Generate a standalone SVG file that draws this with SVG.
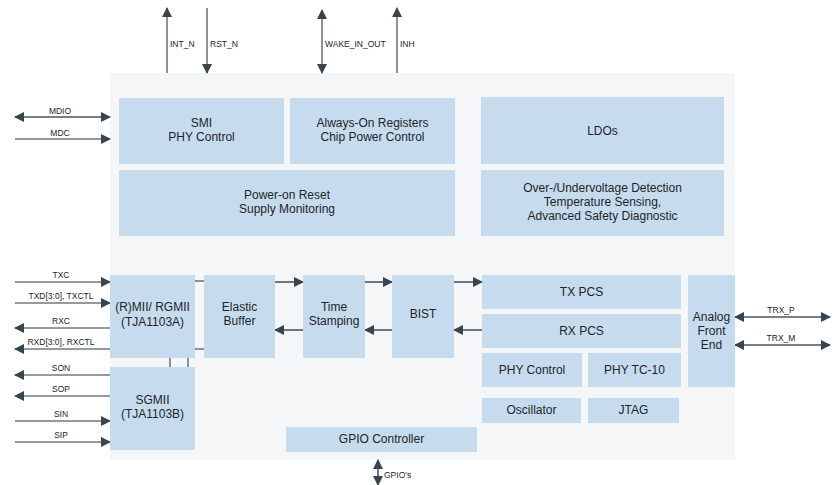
<svg xmlns="http://www.w3.org/2000/svg" width="835" height="485" viewBox="0 0 835 485">
<style>
.box{fill:#c6dcee}
.t{font-family:"Liberation Sans",Arial,sans-serif;font-size:12px;fill:#1e2328;text-anchor:middle}
.s{font-family:"Liberation Sans",Arial,sans-serif;font-size:8.5px;fill:#1e2328}
.sm{text-anchor:middle}
.ln{stroke:#4a5661;stroke-width:1.6;fill:none}
.lg{stroke:#6f7880;stroke-width:1.6;fill:none}
</style>
<defs>
<marker id="ah" viewBox="0 0 10 10" refX="9" refY="5" markerWidth="10" markerHeight="10" markerUnits="userSpaceOnUse" orient="auto-start-reverse">
<path d="M0,0 L10,5 L0,10 z" fill="#37454f"/>
</marker>
</defs>
<rect x="0" y="0" width="835" height="485" fill="#ffffff"/>
<rect id="chip" x="110" y="73" width="625" height="387" fill="#f4f6f8"/>

<g id="connectors">
<!-- top -->
<line class="lg" x1="167" y1="73" x2="167" y2="8" marker-end="url(#ah)"/>
<line class="lg" x1="207" y1="8" x2="207" y2="73" marker-end="url(#ah)"/>
<line class="lg" x1="322" y1="10" x2="322" y2="73" marker-start="url(#ah)" marker-end="url(#ah)"/>
<line class="lg" x1="397" y1="73" x2="397" y2="8" marker-end="url(#ah)"/>
<!-- left top -->
<line class="ln" x1="15" y1="117" x2="110" y2="117" marker-start="url(#ah)" marker-end="url(#ah)"/>
<line class="lg" x1="15" y1="139" x2="110" y2="139" marker-end="url(#ah)"/>
<!-- left bottom -->
<line class="lg" x1="15" y1="282" x2="110" y2="282" marker-end="url(#ah)"/>
<line class="lg" x1="15" y1="303" x2="110" y2="303" marker-end="url(#ah)"/>
<line class="lg" x1="110" y1="328" x2="15" y2="328" marker-end="url(#ah)"/>
<line class="lg" x1="110" y1="349" x2="15" y2="349" marker-end="url(#ah)"/>
<line class="lg" x1="110" y1="375" x2="15" y2="375" marker-end="url(#ah)"/>
<line class="lg" x1="110" y1="396" x2="15" y2="396" marker-end="url(#ah)"/>
<line class="lg" x1="15" y1="421" x2="110" y2="421" marker-end="url(#ah)"/>
<line class="lg" x1="15" y1="442" x2="110" y2="442" marker-end="url(#ah)"/>
<!-- RMII to Elastic -->
<line class="lg" x1="195" y1="281" x2="204" y2="281"/>
<line class="lg" x1="195" y1="349" x2="204" y2="349"/>
<line class="lg" x1="170" y1="358" x2="170" y2="367"/>
<line class="lg" x1="188" y1="358" x2="188" y2="367"/>
<!-- datapath -->
<line class="ln" x1="275" y1="282" x2="303" y2="282" marker-end="url(#ah)"/>
<line class="ln" x1="365" y1="282" x2="392" y2="282" marker-end="url(#ah)"/>
<line class="ln" x1="454" y1="282" x2="482" y2="282" marker-end="url(#ah)"/>
<line class="ln" x1="482" y1="330" x2="454" y2="330" marker-end="url(#ah)"/>
<line class="ln" x1="392" y1="330" x2="365" y2="330" marker-end="url(#ah)"/>
<line class="ln" x1="303" y1="330" x2="275" y2="330" marker-end="url(#ah)"/>
<!-- TRX -->
<line class="ln" x1="735" y1="317" x2="830" y2="317" marker-start="url(#ah)" marker-end="url(#ah)"/>
<line class="ln" x1="735" y1="345" x2="830" y2="345" marker-start="url(#ah)" marker-end="url(#ah)"/>
<!-- GPIO -->
<line class="ln" x1="378" y1="460" x2="378" y2="485" marker-start="url(#ah)" marker-end="url(#ah)"/>
</g>

<g id="signal-labels">
<text class="s" x="170" y="47">INT_N</text>
<text class="s" x="210" y="47">RST_N</text>
<text class="s" x="325" y="47">WAKE_IN_OUT</text>
<text class="s" x="400" y="47">INH</text>
<text class="s sm" x="60" y="114">MDIO</text>
<text class="s sm" x="60" y="136">MDC</text>
<text class="s sm" x="61" y="278">TXC</text>
<text class="s sm" x="61" y="299">TXD[3:0], TXCTL</text>
<text class="s sm" x="61" y="324">RXC</text>
<text class="s sm" x="61" y="345">RXD[3:0], RXCTL</text>
<text class="s sm" x="61" y="371">SON</text>
<text class="s sm" x="61" y="392">SOP</text>
<text class="s sm" x="61" y="417">SIN</text>
<text class="s sm" x="61" y="438">SIP</text>
<text class="s sm" x="781" y="313">TRX_P</text>
<text class="s sm" x="781" y="341">TRX_M</text>
<text class="s" x="384" y="478">GPIO's</text>
</g>

<g id="smi"><rect class="box" x="119" y="98" width="165" height="66"/><text class="t" x="201.5" y="127">SMI</text><text class="t" x="201.5" y="141">PHY Control</text></g>
<g id="always-on"><rect class="box" x="290" y="98" width="165" height="66"/><text class="t" x="372.5" y="127">Always-On Registers</text><text class="t" x="372.5" y="141">Chip Power Control</text></g>
<g id="ldos"><rect class="box" x="481" y="97" width="243" height="67"/><text class="t" x="602.5" y="135">LDOs</text></g>
<g id="por"><rect class="box" x="119" y="170" width="336" height="66"/><text class="t" x="287" y="199">Power-on Reset</text><text class="t" x="287" y="213">Supply Monitoring</text></g>
<g id="ovuv"><rect class="box" x="481" y="170" width="243" height="66"/><text class="t" x="602.5" y="192">Over-/Undervoltage Detection</text><text class="t" x="602.5" y="206">Temperature Sensing,</text><text class="t" x="602.5" y="220">Advanced Safety Diagnostic</text></g>
<g id="rmii"><rect class="box" x="110" y="275" width="85" height="83"/><text class="t" x="152.5" y="311">(R)MII/ RGMII</text><text class="t" x="152.5" y="326">(TJA1103A)</text></g>
<g id="sgmii"><rect class="box" x="110" y="367" width="85" height="83"/><text class="t" x="152.5" y="404">SGMII</text><text class="t" x="152.5" y="418">(TJA1103B)</text></g>
<g id="elastic"><rect class="box" x="204" y="275" width="71" height="83"/><text class="t" x="239.5" y="311">Elastic</text><text class="t" x="239.5" y="325">Buffer</text></g>
<g id="timestamp"><rect class="box" x="303" y="275" width="62" height="83"/><text class="t" x="334" y="311">Time</text><text class="t" x="334" y="325">Stamping</text></g>
<g id="bist"><rect class="box" x="392" y="275" width="62" height="83"/><text class="t" x="423" y="318">BIST</text></g>
<g id="txpcs"><rect class="box" x="482" y="275" width="199" height="34"/><text class="t" x="581.5" y="296">TX PCS</text></g>
<g id="rxpcs"><rect class="box" x="482" y="314" width="199" height="34"/><text class="t" x="581.5" y="335">RX PCS</text></g>
<g id="phyctrl"><rect class="box" x="482" y="353" width="100" height="34"/><text class="t" x="532" y="374">PHY Control</text></g>
<g id="tc10"><rect class="box" x="588" y="353" width="93" height="34"/><text class="t" x="634.5" y="374">PHY TC-10</text></g>
<g id="osc"><rect class="box" x="482" y="398" width="99" height="25"/><text class="t" x="531.5" y="414">Oscillator</text></g>
<g id="jtag"><rect class="box" x="588" y="398" width="91" height="25"/><text class="t" x="633.5" y="414">JTAG</text></g>
<g id="gpio"><rect class="box" x="286" y="427" width="191" height="25"/><text class="t" x="381.5" y="443">GPIO Controller</text></g>
<g id="afe"><rect class="box" x="688" y="275" width="47" height="112"/><text class="t" x="711.5" y="321">Analog</text><text class="t" x="711.5" y="335">Front</text><text class="t" x="711.5" y="349">End</text></g>
</svg>
